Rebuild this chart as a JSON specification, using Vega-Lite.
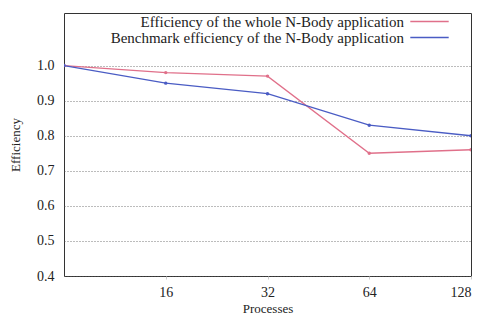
{
  "$schema": "https://vega.github.io/schema/vega-lite/v6.json",
  "width": 407,
  "height": 263,
  "autosize": "none",
  "padding": {"left": 64, "top": 13, "right": 12, "bottom": 44},
  "background": "white",
  "config": {
    "font": "Liberation Serif",
    "view": {"stroke": "#333", "strokeWidth": 1}
  },
  "data": {
    "values": [
      {"p": 8, "e": 1.0, "s": "Efficiency of the whole N-Body application"},
      {"p": 16, "e": 0.98, "s": "Efficiency of the whole N-Body application"},
      {"p": 32, "e": 0.97, "s": "Efficiency of the whole N-Body application"},
      {"p": 64, "e": 0.75, "s": "Efficiency of the whole N-Body application"},
      {"p": 128, "e": 0.76, "s": "Efficiency of the whole N-Body application"},
      {"p": 8, "e": 1.0, "s": "Benchmark efficiency of the N-Body application"},
      {"p": 16, "e": 0.95, "s": "Benchmark efficiency of the N-Body application"},
      {"p": 32, "e": 0.92, "s": "Benchmark efficiency of the N-Body application"},
      {"p": 64, "e": 0.83, "s": "Benchmark efficiency of the N-Body application"},
      {"p": 128, "e": 0.80, "s": "Benchmark efficiency of the N-Body application"}
    ]
  },
  "mark": {"type": "line", "point": {"size": 12, "filled": true}, "strokeWidth": 1.3, "clip": true},
  "encoding": {
    "x": {
      "field": "p", "type": "quantitative",
      "scale": {"type": "log", "base": 2, "domain": [8, 128], "nice": false},
      "axis": {
        "values": [16, 32, 64, 128], "title": "Processes", "grid": false,
        "labelFontSize": 14, "titleFontSize": 13, "titleFontWeight": "normal",
        "labelColor": "#222", "titleColor": "#222", "domain": false,
        "tickSize": 3, "tickColor": "#ccc", "labelPadding": 6, "titlePadding": 3
      }
    },
    "y": {
      "field": "e", "type": "quantitative",
      "scale": {"domain": [0.4, 1.15], "nice": false, "zero": false},
      "axis": {
        "values": [0.4, 0.5, 0.6, 0.7, 0.8, 0.9, 1.0], "format": ".1f",
        "title": "Efficiency", "grid": true, "gridColor": "#555", "gridDash": [1, 2],
        "gridWidth": 0.8, "labelFontSize": 14, "titleFontSize": 13,
        "titleFontWeight": "normal", "labelColor": "#222", "titleColor": "#222",
        "domain": false, "ticks": false, "labelPadding": 10, "titlePadding": 14
      }
    },
    "color": {
      "field": "s", "type": "nominal",
      "scale": {
        "domain": ["Efficiency of the whole N-Body application", "Benchmark efficiency of the N-Body application"],
        "range": ["#e0708a", "#4a5cc4"]
      },
      "legend": {
        "title": null, "orient": "none", "legendX": 358, "legendY": 1,
        "symbolType": "M-3.2,0L3.2,0", "symbolSize": 144, "symbolStrokeWidth": 1.3,
        "labelFontSize": 15, "labelColor": "#222", "labelAlign": "right",
        "labelOffset": -33, "rowPadding": 0, "labelLimit": 400
      }
    }
  }
}
